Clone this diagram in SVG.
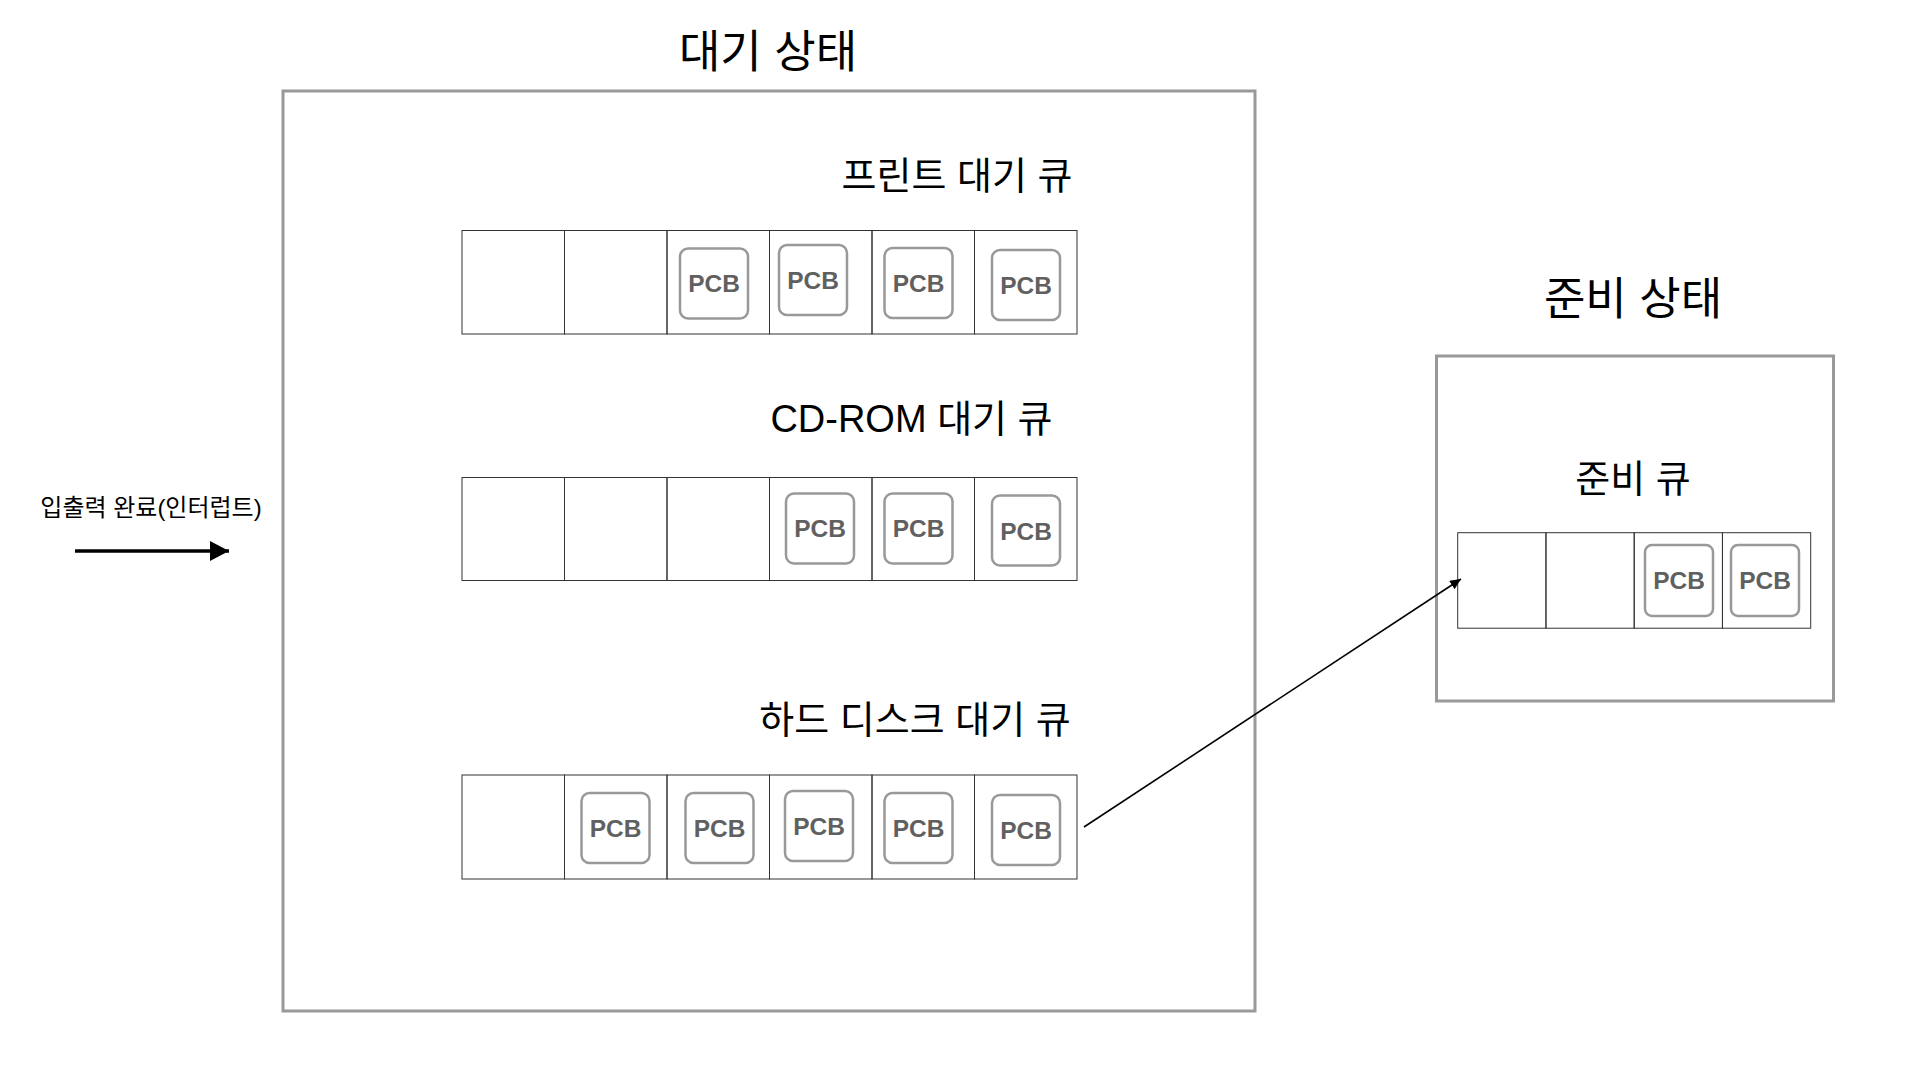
<svg xmlns="http://www.w3.org/2000/svg" width="1920" height="1080" viewBox="0 0 1920 1080">
<style>
.state{fill:none;stroke:#999;stroke-width:3}
.cell{fill:none;stroke:#333;stroke-width:1}
.pcb{fill:#fff;stroke:#999;stroke-width:2.5}
.pcbt{font-family:"Liberation Sans",Arial,sans-serif;font-size:24.5px;font-weight:bold;fill:#606060;text-anchor:middle}
.title{font-family:"Liberation Sans","Noto Sans CJK KR",sans-serif;font-size:45px;fill:#000;text-anchor:middle}
.qlabel{font-family:"Liberation Sans","Noto Sans CJK KR",sans-serif;font-size:38px;fill:#000;text-anchor:middle}
.small{font-family:"Liberation Sans","Noto Sans CJK KR",sans-serif;font-size:24px;fill:#000;text-anchor:middle}
</style>
<defs>
<marker id="bigHead" markerUnits="userSpaceOnUse" markerWidth="20" markerHeight="20" refX="19" refY="10" orient="auto">
<path d="M0,0 L19,10 L0,20 Z" fill="#000"/>
</marker>
<marker id="smallHead" markerUnits="userSpaceOnUse" markerWidth="12" markerHeight="10" refX="11" refY="5" orient="auto">
<path d="M0,0 L11,5 L0,10 Z" fill="#000"/>
</marker>
</defs>
<rect width="1920" height="1080" fill="#fff"/>

<g id="waiting-state">
<rect class="state" x="283" y="91" width="972" height="920"/>
<text class="title" x="768" y="68">대기 상태</text>
</g>

<g id="printer-queue">
<text class="qlabel" x="957" y="189">프린트 대기 큐</text>
<rect class="cell" x="462" y="230.5" width="102.5" height="103.5"/>
<rect class="cell" x="564.5" y="230.5" width="102.5" height="103.5"/>
<rect class="cell" x="667" y="230.5" width="102.5" height="103.5"/>
<rect class="cell" x="769.5" y="230.5" width="102.5" height="103.5"/>
<rect class="cell" x="872" y="230.5" width="102.5" height="103.5"/>
<rect class="cell" x="974.5" y="230.5" width="102.5" height="103.5"/>
<rect class="pcb" x="680" y="248.5" width="68" height="70" rx="8"/>
<text class="pcbt" x="714" y="292">PCB</text>
<rect class="pcb" x="779" y="245" width="68" height="70" rx="8"/>
<text class="pcbt" x="813" y="288.5">PCB</text>
<rect class="pcb" x="884.5" y="248" width="68" height="70" rx="8"/>
<text class="pcbt" x="918.5" y="291.5">PCB</text>
<rect class="pcb" x="992" y="250" width="68" height="70" rx="8"/>
<text class="pcbt" x="1026" y="294">PCB</text>
</g>

<g id="cdrom-queue">
<text class="qlabel" x="911.5" y="432">CD-ROM 대기 큐</text>
<rect class="cell" x="462" y="477.5" width="102.5" height="103"/>
<rect class="cell" x="564.5" y="477.5" width="102.5" height="103"/>
<rect class="cell" x="667" y="477.5" width="102.5" height="103"/>
<rect class="cell" x="769.5" y="477.5" width="102.5" height="103"/>
<rect class="cell" x="872" y="477.5" width="102.5" height="103"/>
<rect class="cell" x="974.5" y="477.5" width="102.5" height="103"/>
<rect class="pcb" x="786" y="493.5" width="68" height="70" rx="8"/>
<text class="pcbt" x="820" y="537">PCB</text>
<rect class="pcb" x="884.5" y="493.5" width="68" height="70" rx="8"/>
<text class="pcbt" x="918.5" y="537">PCB</text>
<rect class="pcb" x="992" y="495.5" width="68" height="70" rx="8"/>
<text class="pcbt" x="1026" y="539.5">PCB</text>
</g>

<g id="harddisk-queue">
<text class="qlabel" x="915" y="733">하드 디스크 대기 큐</text>
<rect class="cell" x="462" y="775" width="102.5" height="104"/>
<rect class="cell" x="564.5" y="775" width="102.5" height="104"/>
<rect class="cell" x="667" y="775" width="102.5" height="104"/>
<rect class="cell" x="769.5" y="775" width="102.5" height="104"/>
<rect class="cell" x="872" y="775" width="102.5" height="104"/>
<rect class="cell" x="974.5" y="775" width="102.5" height="104"/>
<rect class="pcb" x="581.5" y="793" width="68" height="70" rx="8"/>
<text class="pcbt" x="615.5" y="836.5">PCB</text>
<rect class="pcb" x="685.5" y="793" width="68" height="70" rx="8"/>
<text class="pcbt" x="719.5" y="836.5">PCB</text>
<rect class="pcb" x="785" y="791" width="68" height="70" rx="8"/>
<text class="pcbt" x="819" y="834.5">PCB</text>
<rect class="pcb" x="884.5" y="793" width="68" height="70" rx="8"/>
<text class="pcbt" x="918.5" y="836.5">PCB</text>
<rect class="pcb" x="992" y="795" width="68" height="70" rx="8"/>
<text class="pcbt" x="1026" y="838.5">PCB</text>
</g>

<g id="ready-state">
<rect class="state" x="1436.5" y="356" width="397" height="345"/>
<text class="title" x="1633" y="315">준비 상태</text>
</g>

<g id="ready-queue">
<text class="qlabel" x="1633" y="492">준비 큐</text>
<rect class="cell" x="1457.7" y="532.7" width="88.25" height="95.5"/>
<rect class="cell" x="1545.95" y="532.7" width="88.25" height="95.5"/>
<rect class="cell" x="1634.2" y="532.7" width="88.25" height="95.5"/>
<rect class="cell" x="1722.45" y="532.7" width="88.25" height="95.5"/>
<rect class="pcb" x="1645" y="545" width="68" height="71" rx="7"/>
<text class="pcbt" x="1679" y="589">PCB</text>
<rect class="pcb" x="1731" y="545" width="68" height="71" rx="7"/>
<text class="pcbt" x="1765" y="589">PCB</text>
</g>

<g id="io-complete">
<text class="small" x="151" y="516">입출력 완료(인터럽트)</text>
</g>

<g id="connectors">
<line x1="75" y1="551" x2="229" y2="551" stroke="#000" stroke-width="3.5" marker-end="url(#bigHead)"/>
<line x1="1084" y1="827" x2="1461" y2="579" stroke="#000" stroke-width="1.6" marker-end="url(#smallHead)"/>
</g>
</svg>
